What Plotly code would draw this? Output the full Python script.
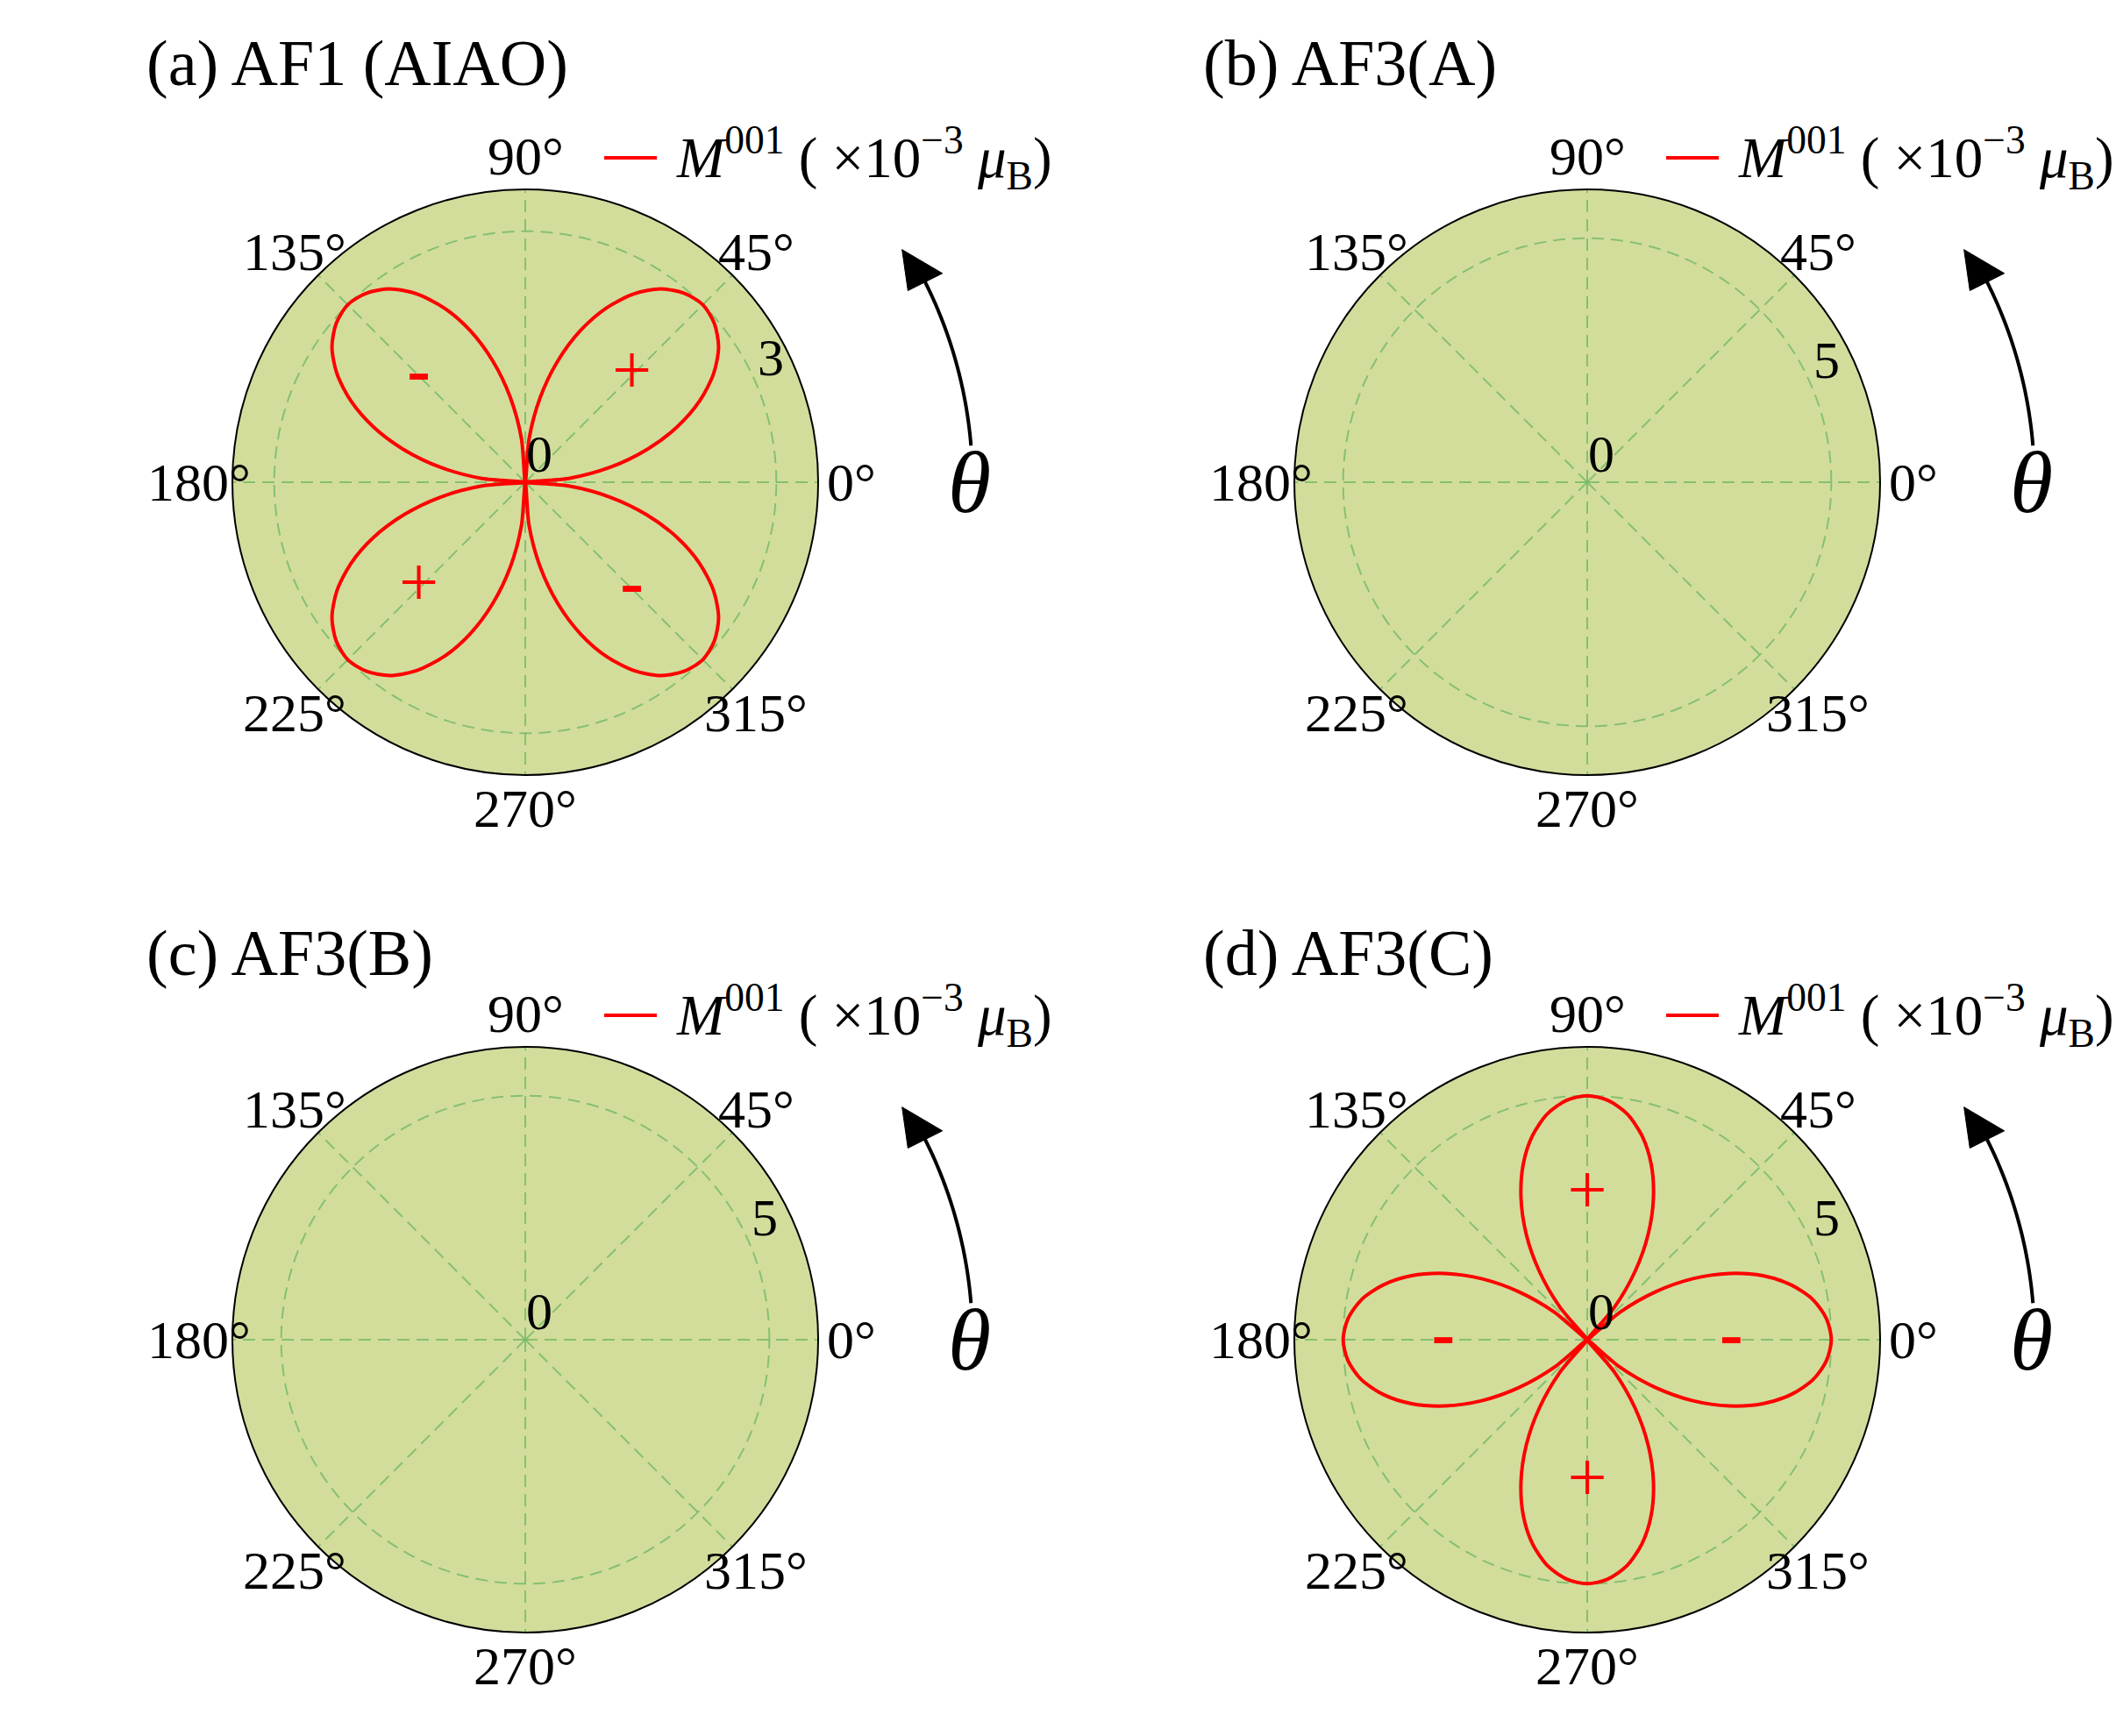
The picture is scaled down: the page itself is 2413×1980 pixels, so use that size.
import numpy as np
import plotly.graph_objects as go

W, H = 2413, 1980

# ---------------- data ----------------
ANGLES = [0, 5, 10, 15, 20, 25, 30, 35, 40, 45, 50, 55, 60, 65, 70, 75, 80, 85, 90,
          95, 100, 105, 110, 115, 120, 125, 130, 135, 140, 145, 150, 155, 160, 165, 170, 175, 180,
          185, 190, 195, 200, 205, 210, 215, 220, 225, 230, 235, 240, 245, 250, 255, 260, 265, 270,
          275, 280, 285, 290, 295, 300, 305, 310, 315, 320, 325, 330, 335, 340, 345, 350, 355, 360]

# (a) AF1 (AIAO): |M001| in units of 1e-3 muB
M_AF1 = [0.00, 0.52, 1.03, 1.50, 1.93, 2.30, 2.60, 2.82, 2.95, 3.00, 2.95, 2.82, 2.60, 2.30, 1.93, 1.50, 1.03, 0.52, 0.00,
         0.52, 1.03, 1.50, 1.93, 2.30, 2.60, 2.82, 2.95, 3.00, 2.95, 2.82, 2.60, 2.30, 1.93, 1.50, 1.03, 0.52, 0.00,
         0.52, 1.03, 1.50, 1.93, 2.30, 2.60, 2.82, 2.95, 3.00, 2.95, 2.82, 2.60, 2.30, 1.93, 1.50, 1.03, 0.52, 0.00,
         0.52, 1.03, 1.50, 1.93, 2.30, 2.60, 2.82, 2.95, 3.00, 2.95, 2.82, 2.60, 2.30, 1.93, 1.50, 1.03, 0.52, 0.00]

# (b) AF3(A) and (c) AF3(B): vanishing
M_AF3A = [0.0] * 73
M_AF3B = [0.0] * 73

# (d) AF3(C)
M_AF3C = [5.00, 4.92, 4.70, 4.33, 3.83, 3.21, 2.50, 1.71, 0.87, 0.00, 0.87, 1.71, 2.50, 3.21, 3.83, 4.33, 4.70, 4.92, 5.00,
          4.92, 4.70, 4.33, 3.83, 3.21, 2.50, 1.71, 0.87, 0.00, 0.87, 1.71, 2.50, 3.21, 3.83, 4.33, 4.70, 4.92, 5.00,
          4.92, 4.70, 4.33, 3.83, 3.21, 2.50, 1.71, 0.87, 0.00, 0.87, 1.71, 2.50, 3.21, 3.83, 4.33, 4.70, 4.92, 5.00,
          4.92, 4.70, 4.33, 3.83, 3.21, 2.50, 1.71, 0.87, 0.00, 0.87, 1.71, 2.50, 3.21, 3.83, 4.33, 4.70, 4.92, 5.00]

# sign labels
SIGN_AF1_THETA = [45, 135, 225, 315]
SIGN_AF1_TEXT = ["+", "-", "+", "-"]
SIGN_AF1_R = [1.8, 1.8, 1.8, 1.8]
SIGN_AF3C_THETA = [0, 90, 180, 270]
SIGN_AF3C_TEXT = ["-", "+", "-", "+"]
SIGN_AF3C_R = [2.95, 2.95, 2.95, 2.95]

ANG_TICKS = [0, 45, 90, 135, 180, 225, 270, 315]
ANG_LABELS = ["0°", "45°", "90°", "135°", "180°", "225°", "270°", "315°"]

TITLES = ["(a) AF1 (AIAO)", "(b) AF3(A)", "(c) AF3(B)", "(d) AF3(C)"]
LEGEND_TEXT = "<i>M</i><sup>001</sup> ( ×10<sup>−3</sup> <i>μ</i><sub>B</sub>)"
RMAX = [3.5, 6, 6, 6]
RTICK = [3, 5, 5, 5]

# ---------------- layout geometry (px) ----------------
R_PX = 334
CENTERS = [(599, 550), (1810, 550), (599, 1528), (1810, 1528)]
TITLE_POS = [(165, 72), (1370, 72), (165, 1087), (1370, 1087)]

FONT = "Liberation Serif"
BG = "#d2dd9c"
GRID = "rgba(115,185,100,0.8)"
RED = "#ff0000"


def P(px, py):
    return px / W, 1 - py / H


fig = go.Figure()

series = [M_AF1, M_AF3A, M_AF3B, M_AF3C]
for i, vals in enumerate(series):
    pid = "polar" if i == 0 else f"polar{i+1}"
    fig.add_trace(go.Scatterpolar(
        r=vals, theta=ANGLES, mode="lines",
        line=dict(color=RED, width=4, shape="spline", smoothing=0.8),
        name=LEGEND_TEXT, subplot=pid, showlegend=False,
    ))

fig.add_trace(go.Scatterpolar(
    r=SIGN_AF1_R, theta=SIGN_AF1_THETA, mode="text",
    text=[("<b>" + t + "</b>") if t == "-" else t for t in SIGN_AF1_TEXT],
    textfont=dict(family=FONT, size=80, color=RED),
    subplot="polar", showlegend=False))
fig.add_trace(go.Scatterpolar(
    r=SIGN_AF3C_R, theta=SIGN_AF3C_THETA, mode="text",
    text=[("<b>" + t + "</b>") if t == "-" else t for t in SIGN_AF3C_TEXT],
    textfont=dict(family=FONT, size=80, color=RED),
    subplot="polar4", showlegend=False))

layout = dict(
    width=W, height=H,
    margin=dict(l=0, r=0, t=0, b=0),
    paper_bgcolor="white", plot_bgcolor="white",
    font=dict(family=FONT, size=60, color="black"),
    showlegend=False,
)

shapes = []
annotations = []

for i, (cx, cy) in enumerate(CENTERS):
    pid = "polar" if i == 0 else f"polar{i+1}"
    x0, y1 = P(cx - R_PX, cy - R_PX)
    x1, y0 = P(cx + R_PX, cy + R_PX)
    layout[pid] = dict(
        domain=dict(x=[x0, x1], y=[y0, y1]),
        bgcolor=BG,
        radialaxis=dict(range=[0, RMAX[i]], tickvals=[0, RTICK[i]], angle=22.5,
                        showticklabels=False,
                        showline=False, ticks="", gridcolor=GRID, griddash="14px,8px",
                        gridwidth=2),
        angularaxis=dict(tickvals=ANG_TICKS, ticktext=ANG_LABELS, direction="counterclockwise",
                         rotation=0, showline=True, linecolor="black", linewidth=2,
                         showticklabels=False,
                         gridcolor=GRID, griddash="14px,8px", gridwidth=2, ticks=""),
    )

    # angular tick labels, centred just outside the outer circle
    for ang, lab in zip(ANG_TICKS, ANG_LABELS):
        t = np.radians(ang)
        ax_, ay_ = P(cx + 372 * np.cos(t), cy - 372 * np.sin(t))
        annotations.append(dict(x=ax_, y=ay_, xref="paper", yref="paper", text=lab,
                                showarrow=False, xanchor="center", yanchor="middle",
                                font=dict(family=FONT, size=62, color="black")))

    # radial tick labels along 22.5 deg
    for val in (0, RTICK[i]):
        rp = val / RMAX[i] * R_PX
        t = np.radians(22.5)
        ax_, ay_ = P(cx + rp * np.cos(t) + 16, cy - rp * np.sin(t) - 32)
        annotations.append(dict(x=ax_, y=ay_, xref="paper", yref="paper", text=str(val),
                                showarrow=False, xanchor="center", yanchor="middle",
                                font=dict(family=FONT, size=60, color="black")))

    # legend (line + label)
    lx0, ly = P(cx + 90, cy - 370)
    lx1, _ = P(cx + 150, cy - 370)
    shapes.append(dict(type="line", x0=lx0, x1=lx1, y0=ly, y1=ly, xref="paper", yref="paper",
                       line=dict(color=RED, width=4)))
    tx_, _ = P(cx + 170, cy - 370)
    annotations.append(dict(x=tx_, y=ly, xref="paper", yref="paper", text=LEGEND_TEXT,
                            showarrow=False, xanchor="left", yanchor="middle",
                            font=dict(family=FONT, size=65, color="black")))

    # title
    tx, ty = P(*TITLE_POS[i])
    annotations.append(dict(x=tx, y=ty, xref="paper", yref="paper", text=TITLES[i],
                            showarrow=False, xanchor="left", yanchor="middle",
                            font=dict(family=FONT, size=74, color="black")))

    # theta arrow (arc around panel centre)
    arc_r = 510
    a = np.radians(np.linspace(4.7, 27.5, 30))
    pts = [P(cx + arc_r * np.cos(t), cy - arc_r * np.sin(t)) for t in a]
    path = "M " + " L ".join(f"{px:.5f},{py:.5f}" for px, py in pts)
    shapes.append(dict(type="path", path=path, xref="paper", yref="paper",
                       line=dict(color="black", width=4)))
    tri = []
    for rr, aa in ((505, 31.7), (532, 26.6), (488, 26.6)):
        t = np.radians(aa)
        tri.append(P(cx + rr * np.cos(t), cy - rr * np.sin(t)))
    tpath = "M {:.5f},{:.5f} L {:.5f},{:.5f} L {:.5f},{:.5f} Z".format(*tri[0], *tri[1], *tri[2])
    shapes.append(dict(type="path", path=tpath, xref="paper", yref="paper",
                       fillcolor="black", line=dict(color="black", width=1)))
    thx, thy = P(cx + 506, cy)
    annotations.append(dict(x=thx, y=thy, xref="paper", yref="paper", text="<i>θ</i>",
                            showarrow=False, xanchor="center", yanchor="middle",
                            font=dict(family=FONT, size=100, color="black")))

layout["shapes"] = shapes
layout["annotations"] = annotations
fig.update_layout(**layout)

fig.write_html("out.html")
